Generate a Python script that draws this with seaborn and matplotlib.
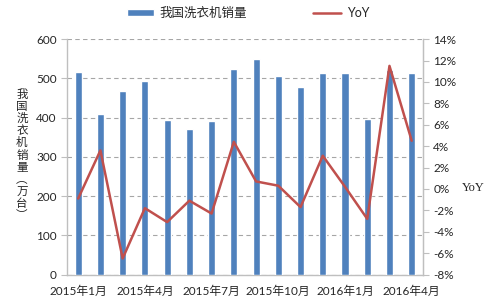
import matplotlib
matplotlib.use("Agg")
import matplotlib.pyplot as plt
import seaborn as sns
import numpy as np
import pandas as pd
from matplotlib.ticker import FuncFormatter, MultipleLocator, FixedLocator

months = ["2015年1月", "2015年2月", "2015年3月", "2015年4月", "2015年5月", "2015年6月",
          "2015年7月", "2015年8月", "2015年9月", "2015年10月", "2015年11月", "2015年12月",
          "2016年1月", "2016年2月", "2016年3月", "2016年4月"]
sales = [515, 408, 468, 493, 393, 370, 392, 524, 549, 507, 477, 514, 514, 397, 522, 514]
yoy = [-0.9, 3.6, -6.5, -1.8, -3.1, -1.1, -2.3, 4.4, 0.7, 0.3, -1.7, 3.1, 0.2, -2.8, 11.5, 4.5]

bar_name = "我国洗衣机销量"
line_name = "YoY"
left_label = "我国洗衣机销量︵万台︶"
right_label = "YoY"

sns.set_style("white")
plt.rcParams["font.family"] = ["Lato", "Noto Sans CJK SC", "DejaVu Sans"]

BLUE = "#4F81BD"
RED = "#C0504D"
GRID = "#A6A6A6"
SPINE = "#BFBFBF"

df = pd.DataFrame({"month": months, "sales": sales, "yoy": yoy})

fig = plt.figure(figsize=(4.86, 3.01), dpi=100)
ax = fig.add_axes([0.138, 0.088, 0.732, 0.782])

sns.barplot(data=df, x="month", y="sales", color=BLUE, width=0.32,
            saturation=1, ax=ax, label=bar_name, zorder=3)
ax.set_ylim(0, 600)
ax.set_xlim(-0.5, len(months) - 0.5)
ax.yaxis.set_major_locator(MultipleLocator(100))
ax.grid(axis="y", linestyle=(0, (4, 3)), color=GRID, linewidth=0.8, zorder=0)
ax.grid(axis="x", visible=False)
ax.set_xlabel("")
ax.set_ylabel("")

idx = list(range(0, len(months), 3))
ax.set_xticks(idx)
ax.set_xticklabels([months[i] for i in idx], fontsize=8.5)
ax.tick_params(axis="x", length=0, pad=8)
ax.xaxis.set_minor_locator(FixedLocator([i - 0.5 for i in idx[1:]]))
ax.tick_params(axis="x", which="minor", length=4, color=SPINE, direction="out")
ax.tick_params(axis="y", labelsize=8.5, length=4, color=SPINE, direction="out")

ax.spines["top"].set_visible(False)
for s in ["left", "bottom", "right"]:
    ax.spines[s].set_color(SPINE)
    ax.spines[s].set_linewidth(1.0)

ax2 = ax.twinx()
sns.lineplot(x=np.arange(len(months)), y=yoy, ax=ax2, color=RED, linewidth=1.8,
             label=line_name, zorder=4, legend=False)
ax2.set_ylim(-8, 14)
ax2.yaxis.set_major_locator(MultipleLocator(2))
ax2.yaxis.set_major_formatter(FuncFormatter(lambda v, p: f"{v:.0f}%"))
ax2.tick_params(axis="y", labelsize=8.5, length=4, color=SPINE, direction="out")
ax2.grid(False)
for s in ["top", "left", "bottom"]:
    ax2.spines[s].set_visible(False)
ax2.spines["right"].set_color(SPINE)
ax2.set_xlim(-0.5, len(months) - 0.5)

# left vertical label, one character per line
pitch = 12.2 / 301
y0 = 1 - 94 / 301
for k, ch in enumerate(left_label):
    fig.text(0.045, y0 - k * pitch, ch, ha="center", va="center",
             fontsize=8.3, family=["Noto Sans CJK SC"])
fig.text(0.973, 0.375, right_label, ha="center", va="center",
         fontsize=9, family=["Liberation Serif", "DejaVu Serif"])

# legend
h1, l1 = ax.get_legend_handles_labels()
h2, l2 = ax2.get_legend_handles_labels()
if ax.get_legend() is not None:
    ax.get_legend().remove()
fig.legend(h1 + h2, l1 + l2, loc="center", bbox_to_anchor=(0.51, 0.957), ncol=2,
           frameon=False, fontsize=9, handlelength=2.2, handleheight=0.5,
           columnspacing=5.3, handletextpad=0.45)

fig.savefig("out.png", dpi=100)
